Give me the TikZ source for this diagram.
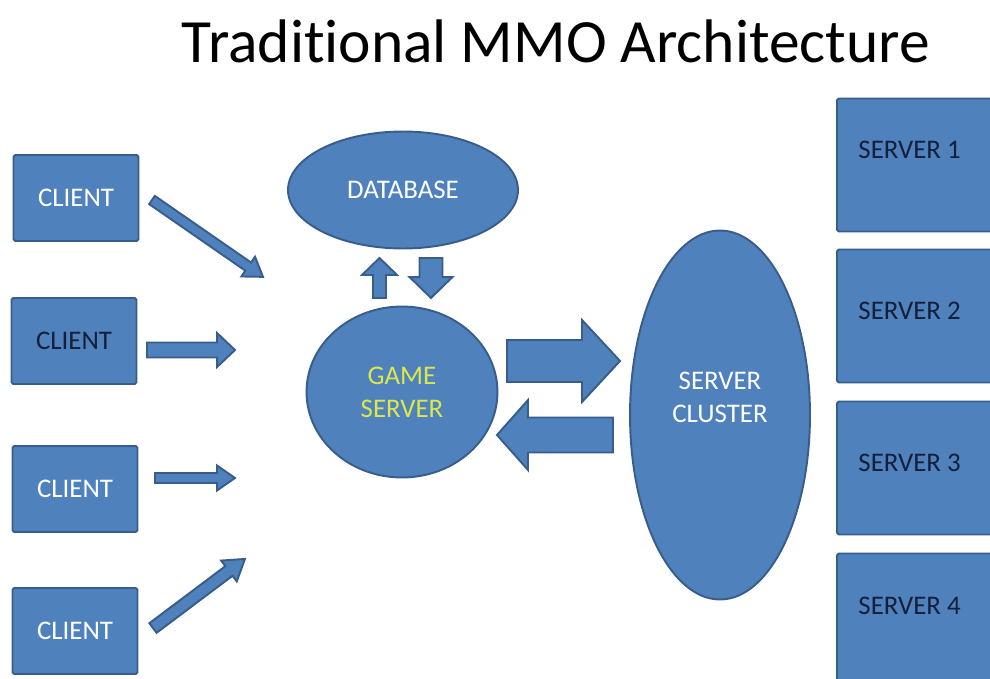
\documentclass[tikz,border=0pt]{standalone}
\usepackage{fontspec}
\setmainfont{Carlito}[RawFeature={-liga;-clig;-calt;-dlig}]
\usetikzlibrary{shapes.geometric}

\definecolor{boxblue}{HTML}{4F81BD}
\definecolor{edgeblue}{HTML}{385D8A}
\definecolor{darktext}{HTML}{14203A}
\definecolor{gametext}{HTML}{DCE84A}

\newcommand{\boxfont}{\fontsize{15.3}{18.7}\selectfont}

\tikzstyle{client} = [rectangle, rounded corners=1pt, minimum width=2.5cm, minimum height=1.72cm, text centered, draw=edgeblue, fill=boxblue, line width=1.1pt, font=\boxfont, text=white]
\tikzstyle{server} = [rectangle, rounded corners=1pt, minimum width=3.4cm, minimum height=2.66cm, draw=edgeblue, fill=boxblue, line width=1.1pt]
\tikzstyle{servertext} = [anchor=west, inner sep=0pt, font=\boxfont, text=darktext]
\tikzstyle{blob} = [ellipse, inner sep=0pt, text centered, align=center, draw=edgeblue, fill=boxblue, line width=1.1pt, font=\boxfont, text=white]
\tikzstyle{arrow} = [draw=edgeblue, fill=boxblue, line width=1.1pt, line join=miter]

% block arrow: tail (#1,#2), angle #3, length #4, shaft #5, head width #6, head length #7
\newcommand{\blockarrow}[7]{%
  \begin{scope}[shift={(#1,#2)}, rotate=#3]
    \filldraw[arrow] (0,-#5/2) -- (#4-#7,-#5/2) -- (#4-#7,-#6/2) -- (#4,0)
      -- (#4-#7,#6/2) -- (#4-#7,#5/2) -- (0,#5/2) -- cycle;
  \end{scope}}

\begin{document}
\begin{tikzpicture}[x=0.02cm, y=-0.02cm]
\clip (0,0) rectangle (990,679);

% title
\node (title) at (556,63) [anchor=base, font=\fontsize{35}{40}\selectfont] {Traditional MMO Architecture};

% clients
\node (client1) at (76,198) [client] {CLIENT};
\node (client2) at (74,341) [client, text=darktext] {CLIENT};
\node (client3) at (75,489) [client] {CLIENT};
\node (client4) at (75,631) [client] {CLIENT};

% database and game server
\node (db) at (403,190) [blob, minimum width=4.6cm, minimum height=2.34cm] {DATABASE};
\node (game) at (402,392) [blob, minimum width=3.82cm, minimum height=3.42cm, text=gametext] {GAME\\SERVER};

% cluster
\node (cluster) at (720,415) [blob, minimum width=3.6cm, minimum height=7.38cm] {};
\node (clustertext) at (720,397) [blob, draw=none, fill=none] {SERVER\\CLUSTER};

% servers
\node (srv1) at (922,165) [server] {};
\node (srv2) at (922,316) [server] {};
\node (srv3) at (922,468) [server] {};
\node (srv4) at (922,620) [server] {};
\node (srvtext1) at ([shift={(22,-15)}]srv1.west) [servertext] {SERVER 1};
\node (srvtext2) at ([shift={(22,-5)}]srv2.west) [servertext] {SERVER 2};
\node (srvtext3) at ([shift={(22,-5)}]srv3.west) [servertext] {SERVER 3};
\node (srvtext4) at ([shift={(22,-14)}]srv4.west) [servertext] {SERVER 4};

% arrows
\blockarrow{152}{200}{-34.7}{135}{10}{24}{18}
\blockarrow{147}{350}{0}{88}{15}{34}{18}
\blockarrow{155}{478}{0}{80}{10}{25}{18}
\blockarrow{153}{628}{36.9}{115}{12}{26}{20}
\blockarrow{379.5}{298}{90}{40}{13}{35}{17}
\blockarrow{431}{258}{-90}{40}{23}{43}{21}
\blockarrow{507}{361}{0}{113}{42}{82}{38}
\blockarrow{613}{435}{180}{116}{35}{70}{31}

\end{tikzpicture}
\end{document}
